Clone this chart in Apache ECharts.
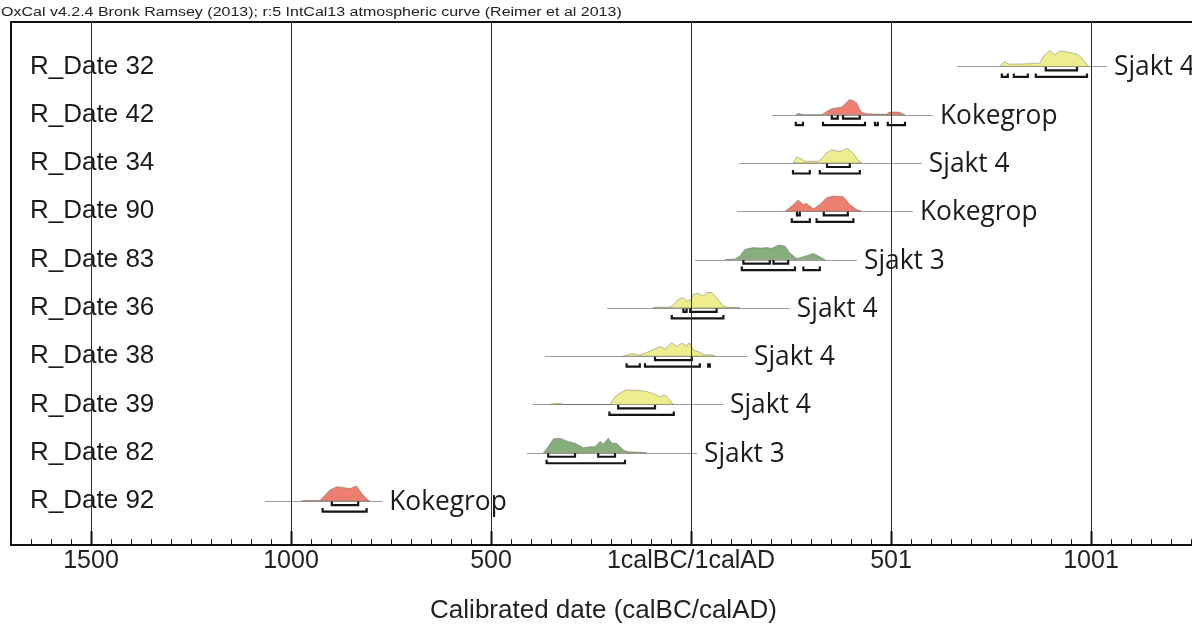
<!DOCTYPE html>
<html>
<head>
<meta charset="utf-8">
<script src="https://cdn.jsdelivr.net/npm/echarts@6/dist/echarts.min.js"></script>
<style>
  html, body { margin: 0; padding: 0; background: #fff; }
  #chart { width: 1192px; height: 628px; }
</style>
</head>
<body>
<div id="chart"></div>
<script>
// Calibrated radiocarbon dates (OxCal multiplot). Years: 0 = 1calBC/1calAD, BC negative.

const rowNames = ['R_Date 32', 'R_Date 42', 'R_Date 34', 'R_Date 90', 'R_Date 83',
                  'R_Date 36', 'R_Date 38', 'R_Date 39', 'R_Date 82', 'R_Date 92'];
const siteNames = ['Sjakt 4', 'Kokegrop', 'Sjakt 4', 'Kokegrop', 'Sjakt 3',
                   'Sjakt 4', 'Sjakt 4', 'Sjakt 4', 'Sjakt 3', 'Kokegrop'];

// extent of the thin range line drawn under each distribution
const plotSpans = [[665, 1040], [202, 605], [120, 577], [115, 555], [10, 415],
                   [-210, 247], [-365, 140], [-395, 80], [-410, 15], [-1065, -772]];

// probability distributions: [year, relative probability 0-100]
const pdf32 = [[772, 0], [780, 20], [785, 29], [790, 18], [795, 13], [820, 14], [850, 16], [872, 19],
               [881, 59], [897, 92], [910, 65], [921, 88], [939, 84], [964, 72], [977, 49], [993, 0]];
const pdf42 = [[262, 0], [270, 8], [280, 0], [327, 0], [340, 20], [352, 35], [365, 40], [377, 45],
               [386, 65], [396, 88], [405, 82], [414, 69], [421, 35], [427, 14], [439, 6], [460, 4],
               [489, 3], [495, 14], [505, 16], [520, 15], [535, 0]];
const pdf34 = [[256, 0], [264, 35], [277, 22], [285, 10], [318, 10], [327, 25], [339, 59], [352, 75],
               [372, 65], [391, 84], [406, 55], [418, 16], [427, 0]];
const pdf90 = [[235, 0], [256, 39], [268, 65], [281, 39], [289, 45], [306, 14], [322, 39], [339, 78],
               [356, 88], [381, 84], [397, 39], [414, 10], [427, 0]];
const pdf83 = [[85, 0], [110, 4], [122, 20], [135, 59], [156, 69], [175, 66], [189, 69], [202, 65],
               [218, 84], [235, 78], [247, 39], [264, 6], [281, 16], [306, 35], [327, 10], [335, 0]];
const pdf36 = [[-95, 0], [-80, 4], [-55, 4], [-48, 10], [-40, 29], [-32, 49], [-19, 59], [-11, 39],
               [-2, 43], [6, 78], [18, 84], [31, 69], [39, 88], [52, 88], [64, 59], [81, 10], [89, 4],
               [110, 3], [122, 0]];
const pdf38 = [[-169, 0], [-148, 16], [-128, 6], [-103, 29], [-78, 55], [-65, 41], [-48, 78], [-36, 55],
               [-23, 75], [-11, 59], [-4, 78], [6, 35], [22, 22], [35, 6], [47, 10], [60, 0]];
const pdf39 = [[-350, 0], [-340, 6], [-325, 5], [-318, 0], [-202, 0], [-190, 45], [-178, 65], [-161, 84],
               [-128, 80], [-111, 75], [-90, 59], [-78, 45], [-65, 55], [-53, 25], [-44, 0]];
const pdf82 = [[-369, 0], [-357, 35], [-344, 80], [-328, 84], [-307, 65], [-290, 55], [-269, 29],
               [-253, 35], [-240, 35], [-228, 65], [-219, 51], [-207, 84], [-198, 55], [-186, 55],
               [-169, 16], [-157, 6], [-130, 3], [-111, 0]];
const pdf92 = [[-975, 0], [-960, 3], [-928, 3], [-923, 14], [-903, 63], [-886, 82], [-869, 78],
               [-853, 72], [-836, 86], [-823, 43], [-807, 4], [-803, 0]];
const pdfs = [pdf32, pdf42, pdf34, pdf90, pdf83, pdf36, pdf38, pdf39, pdf82, pdf92];

// highest posterior density ranges
const range68 = [
  [[887, 965]],
  [[352, 367], [380, 422]],
  [[340, 397]],
  [[265, 272], [332, 392]],
  [[131, 197], [206, 243]],
  [[-19, -11], [-2, 64]],
  [[-90, 2]],
  [[-182, -90]],
  [[-357, -290], [-232, -190]],
  [[-898, -832]]
];
const range95 = [
  [[777, 792], [807, 842], [862, 990]],
  [[262, 280], [330, 435], [460, 467], [492, 535]],
  [[255, 297], [322, 422]],
  [[252, 297], [314, 406]],
  [[127, 260], [281, 322]],
  [[-48, 81]],
  [[-161, -128], [-115, 22], [43, 47]],
  [[-204, -43]],
  [[-361, -165]],
  [[-921, -811]]
];

// axis
const majorTicks = [-1500, -1000, -500, 0, 500, 1000];
const tickLabels = ['1500', '1000', '500', '1calBC/1calAD', '501', '1001'];
const axisTitle = 'Calibrated date (calBC/calAD)';
const headerText = 'OxCal v4.2.4 Bronk Ramsey (2013); r:5 IntCal13 atmospheric curve (Reimer et al 2013)';

const siteColors = { 'Sjakt 4': '#eeee8e', 'Kokegrop': '#ee7f70', 'Sjakt 3': '#86ad7c' };

const X_MIN = -1700, X_MAX = 1262.5;
const Y_MIN = -0.92, Y_MAX = 9.91;
const AMP = 0.0036;           // row height units per probability unit
const ARIAL = '"Liberation Sans", Arial, sans-serif';
const HUMANIST = '"Open Sans", "Noto Sans", sans-serif';

const chart = echarts.init(document.getElementById('chart'), null, { renderer: 'canvas' });

function renderRow(params, api) {
  const i = params.dataIndex;
  const base = api.coord([0, i])[1];
  const children = [];
  const [s0, s1] = plotSpans[i];
  const xa = api.coord([s0, i])[0];
  const xb = api.coord([s1, i])[0];
  const by = Math.round(base) + 0.5;

  children.push({
    type: 'line',
    shape: { x1: xa, y1: by, x2: xb, y2: by },
    style: { stroke: '#9d9d9d', lineWidth: 1 }
  });

  const pts = pdfs[i].map(([yr, h]) => api.coord([yr, i - h * AMP]));
  children.push({
    type: 'polygon',
    shape: { points: pts },
    style: { fill: siteColors[siteNames[i]], stroke: 'rgba(95,95,80,0.6)', lineWidth: 0.7 }
  });

  const bracket = (a, b, y) => {
    const x1 = api.coord([a, i])[0];
    const x2 = api.coord([b, i])[0];
    return {
      type: 'polyline',
      shape: { points: [[x1, y - 3.5], [x1, y], [x2, y], [x2, y - 3.5]] },
      style: { stroke: '#151515', lineWidth: 2.2, fill: null }
    };
  };
  range68[i].forEach(([a, b]) => children.push(bracket(a, b, base + 4)));
  range95[i].forEach(([a, b]) => children.push(bracket(a, b, base + 10.5)));

  children.push({
    type: 'text',
    x: api.coord([X_MIN, i])[0] + 19,
    y: base,
    style: { text: rowNames[i], font: '26px ' + ARIAL, fill: '#1b1b1b', align: 'left', verticalAlign: 'middle' }
  });
  children.push({
    type: 'text',
    x: xb + 7,
    y: base + 1,
    scaleX: 0.94,
    style: { text: siteNames[i], font: '28px ' + HUMANIST, fill: '#1b1b1b', align: 'left', verticalAlign: 'middle' }
  });

  return { type: 'group', children };
}

function renderGridLine(params, api) {
  const v = api.value(0);
  const top = api.coord([v, Y_MIN]);
  const bot = api.coord([v, Y_MAX]);
  const x = Math.round(top[0]) + 0.5;
  return {
    type: 'group',
    children: [
      { type: 'line', shape: { x1: x, y1: top[1], x2: x, y2: bot[1] }, style: { stroke: '#2b2b2b', lineWidth: 1 } },
      { type: 'line', shape: { x1: x, y1: bot[1], x2: x, y2: bot[1] - 14 }, style: { stroke: '#111', lineWidth: 2 } }
    ]
  };
}

const option = {
  animation: false,
  backgroundColor: '#fff',
  graphic: [{
    type: 'text',
    x: 1,
    y: 13,
    scaleX: 1.28,
    style: { text: headerText, font: '12.5px ' + ARIAL, fill: '#222', verticalAlign: 'middle' }
  }],
  grid: {
    left: 11, right: -4, top: 22, bottom: 83,
    outerBoundsMode: 'none',
    containLabel: false,
    show: true, borderColor: '#111', borderWidth: 2, backgroundColor: 'transparent'
  },
  xAxis: {
    type: 'value',
    min: X_MIN, max: X_MAX, interval: 50,
    axisLine: { show: true, onZero: false, lineStyle: { color: '#111', width: 2 } },
    axisTick: { show: true, inside: true, length: 6, lineStyle: { color: '#222', width: 1 } },
    axisLabel: {
      margin: 4,
      fontFamily: ARIAL, fontSize: 25, color: '#222',
      formatter: (v) => {
        const k = majorTicks.indexOf(Math.round(v));
        return k >= 0 ? tickLabels[k] : '';
      }
    },
    splitLine: { show: false },
    name: axisTitle,
    nameLocation: 'middle',
    nameGap: 53,
    nameTextStyle: { fontFamily: ARIAL, fontSize: 26, color: '#222' }
  },
  yAxis: { type: 'value', min: Y_MIN, max: Y_MAX, inverse: true, show: false },
  series: [
    {
      type: 'custom',
      coordinateSystem: 'cartesian2d',
      encode: { x: 0, y: 1 },
      data: rowNames.map((n, i) => [plotSpans[i][0], i]),
      renderItem: renderRow,
      z: 2
    },
    {
      type: 'custom',
      coordinateSystem: 'cartesian2d',
      encode: { x: 0, y: 1 },
      data: majorTicks.map((v) => [v, Y_MAX]),
      renderItem: renderGridLine,
      z: 5
    }
  ]
};

chart.setOption(option);
</script>
</body>
</html>
